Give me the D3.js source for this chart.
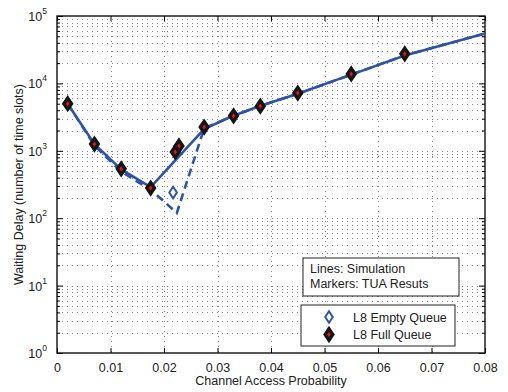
<!DOCTYPE html>
<html>
<head>
<meta charset="utf-8">
<script src="https://cdn.jsdelivr.net/npm/d3@7"></script>
<style>
body { margin: 0; background: #fff; }
text { font-family: "Liberation Sans", Arial, sans-serif; fill: #222; }
</style>
</head>
<body>
<div id="chart"></div>
<script>
var width = 508;
var height = 392;
var margin = {left: 57, right: 23, top: 16, bottom: 39};
var w = width - margin.left - margin.right;
var h = height - margin.top - margin.bottom;
var blue = "#2f54a6";

// simulation lines
var fullSimX = [0.002, 0.007, 0.012, 0.0175, 0.0275, 0.0325, 0.0375, 0.045, 0.055, 0.065, 0.08];
var fullSimY = [5000, 1250, 530, 290, 2100, 3200, 4500, 7000, 13500, 26000, 55000];
var emptySimX = [0.002, 0.007, 0.012, 0.0175, 0.0224, 0.0275, 0.0325, 0.0375, 0.045, 0.055, 0.065, 0.08];
var emptySimY = [5000, 1200, 490, 265, 120, 2150, 3200, 4500, 7000, 13500, 26000, 55000];

// TUA markers
var emptyMarkX = [0.002, 0.007, 0.012, 0.0175, 0.0217, 0.0275, 0.033, 0.038, 0.045, 0.055, 0.065];
var emptyMarkY = [5000, 1250, 530, 280, 240, 2200, 3300, 4600, 7200, 13800, 27500];
var fullMarkX = [0.002, 0.007, 0.012, 0.0175, 0.0221, 0.0228, 0.0275, 0.033, 0.038, 0.045, 0.055, 0.065];
var fullMarkY = [5000, 1260, 540, 280, 960, 1180, 2250, 3300, 4600, 7200, 13800, 27500];

var xTicks = [0, 0.01, 0.02, 0.03, 0.04, 0.05, 0.06, 0.07, 0.08];
var yExp = [0, 1, 2, 3, 4, 5];
var legendNames = ["L8 Empty Queue", "L8 Full Queue"];
var noteLines = ["Lines: Simulation", "Markers: TUA Resuts"];

var svg = d3.select("#chart")
  .append("svg")
  .attr("width", width)
  .attr("height", height);

var x = d3.scaleLinear().domain([0, 0.08]).range([0, w]);
var y = d3.scaleLog().domain([1, 100000]).range([h, 0]);

var g = svg.append("g")
  .attr("transform", "translate(" + margin.left + "," + margin.top + ")");

// minor log values
var minor = [];
yExp.slice(0, 5).forEach(function(e) {
  for (var k = 2; k <= 9; k++) minor.push(k * Math.pow(10, e));
});

// grid
var grid = g.append("g")
  .attr("stroke", "#777")
  .attr("stroke-width", 0.9)
  .attr("stroke-dasharray", "1,4");
grid.selectAll(".gx").data(xTicks.slice(1, -1)).enter().append("line")
  .attr("x1", d => Math.round(x(d)) + 0.5).attr("x2", d => Math.round(x(d)) + 0.5)
  .attr("y1", 0).attr("y2", h);
grid.selectAll(".gy").data(minor.concat(yExp.slice(1, -1).map(e => Math.pow(10, e)))).enter().append("line")
  .attr("x1", 0).attr("x2", w)
  .attr("y1", d => Math.round(y(d)) + 0.5).attr("y2", d => Math.round(y(d)) + 0.5);

// axes with inward ticks
var xAxis = g.append("g").attr("transform", "translate(0," + h + ")")
  .call(d3.axisBottom(x).tickValues(xTicks).tickSize(-5).tickPadding(10)
    .tickFormat(d => d === 0 ? "0" : d3.format(".2f")(d)));
xAxis.select(".domain").remove();
xAxis.selectAll("text").attr("font-size", 12.5);

var xTop = g.append("g")
  .call(d3.axisTop(x).tickValues(xTicks).tickSize(-5).tickFormat(""));
xTop.select(".domain").remove();

var yLeft = g.append("g")
  .call(d3.axisLeft(y).tickValues(yExp.map(e => Math.pow(10, e))).tickSize(-6).tickFormat(""));
yLeft.select(".domain").remove();
var yRight = g.append("g").attr("transform", "translate(" + w + ",0)")
  .call(d3.axisRight(y).tickValues(yExp.map(e => Math.pow(10, e))).tickSize(-6).tickFormat(""));
yRight.select(".domain").remove();
g.append("g").call(d3.axisLeft(y).tickValues(minor).tickSize(-3).tickFormat(""))
  .select(".domain").remove();
g.append("g").attr("transform", "translate(" + w + ",0)")
  .call(d3.axisRight(y).tickValues(minor).tickSize(-3).tickFormat(""))
  .select(".domain").remove();

// y tick labels as 10^n
var yl = g.selectAll(".ylab").data(yExp).enter().append("text")
  .attr("x", -10)
  .attr("y", d => y(Math.pow(10, d)) + 5)
  .attr("text-anchor", "end")
  .attr("font-size", 12.5);
yl.append("tspan").text("10");
yl.append("tspan").text(d => d).attr("font-size", 8.5).attr("dy", -7);

// frame
g.append("rect")
  .attr("width", w).attr("height", h)
  .attr("fill", "none").attr("stroke", "#111").attr("stroke-width", 1.4);

// lines
var line = d3.line().x(d => x(d[0])).y(d => y(d[1]));
g.append("path")
  .datum(d3.zip(emptySimX, emptySimY))
  .attr("d", line)
  .attr("fill", "none").attr("stroke", blue).attr("stroke-width", 2.6)
  .attr("stroke-dasharray", "8,5");
g.append("path")
  .datum(d3.zip(fullSimX, fullSimY))
  .attr("d", line)
  .attr("fill", "none").attr("stroke", blue).attr("stroke-width", 2.6);

function diamond(a, b) {
  return "M0," + (-b) + "L" + a + ",0L0," + b + "L" + (-a) + ",0Z";
}

g.selectAll(".em").data(d3.zip(emptyMarkX, emptyMarkY)).enter().append("path")
  .attr("d", diamond(3.8, 5.8))
  .attr("transform", d => "translate(" + x(d[0]) + "," + y(d[1]) + ")")
  .attr("fill", "#fff").attr("stroke", blue).attr("stroke-width", 2);

g.selectAll(".fm").data(d3.zip(fullMarkX, fullMarkY)).enter().append("path")
  .attr("d", diamond(3.8, 5.6))
  .attr("transform", d => "translate(" + x(d[0]) + "," + y(d[1]) + ")")
  .attr("fill", "#e8141b").attr("stroke", "#151515").attr("stroke-width", 3.4);

// note box
var note = svg.append("g").attr("transform", "translate(303,258)");
note.append("rect").attr("width", 156).attr("height", 38)
  .attr("fill", "#fff").attr("stroke", "#222").attr("stroke-width", 1);
note.selectAll("text").data(noteLines).enter().append("text")
  .attr("x", 7).attr("y", (d, i) => 15 + i * 14.5)
  .attr("font-size", 12.5).text(d => d);

// legend
var leg = svg.append("g").attr("transform", "translate(301,305)");
leg.append("rect").attr("width", 154).attr("height", 41)
  .attr("fill", "#fff").attr("stroke", "#222").attr("stroke-width", 1);
leg.append("path").attr("d", diamond(3.8, 5.8))
  .attr("transform", "translate(28,12)")
  .attr("fill", "#fff").attr("stroke", blue).attr("stroke-width", 2);
leg.append("path").attr("d", diamond(3.8, 5.6))
  .attr("transform", "translate(28,29.5)")
  .attr("fill", "#e8141b").attr("stroke", "#151515").attr("stroke-width", 3.4);
leg.selectAll(".lt").data(legendNames).enter().append("text")
  .attr("x", 52).attr("y", (d, i) => 16.5 + i * 17.5)
  .attr("font-size", 12.5).text(d => d);

// axis titles
svg.append("text")
  .attr("x", margin.left + w / 2).attr("y", 385)
  .attr("text-anchor", "middle").attr("font-size", 12.5)
  .text("Channel Access Probability");
svg.append("text")
  .attr("transform", "translate(23," + (margin.top + h / 2) + ") rotate(-90)")
  .attr("text-anchor", "middle").attr("font-size", 12.5)
  .text("Waiting Delay (number of time slots)");
</script>
</body>
</html>
